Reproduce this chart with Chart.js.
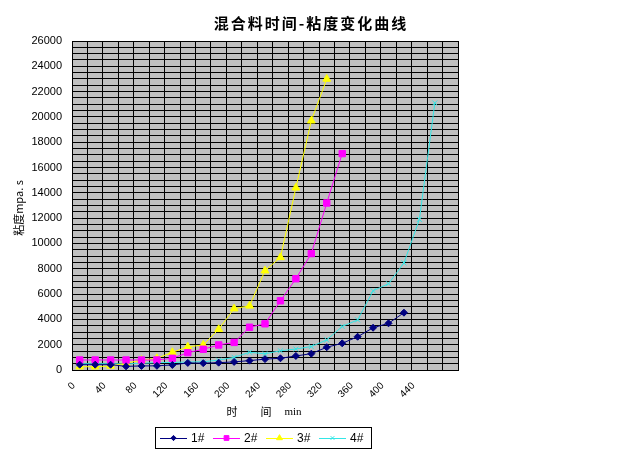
<!DOCTYPE html>
<html>
<head>
<meta charset="utf-8">
<script src="https://cdn.jsdelivr.net/npm/chart.js@4.4.0/dist/chart.umd.min.js"></script>
<style>
  html, body { margin: 0; padding: 0; background: #fff; }
  #wrap { width: 620px; height: 456px; }
</style>
</head>
<body>
<div id="wrap"><canvas id="chart" width="620" height="456"></canvas></div>
<script>
// categories (min); the last slot has no label
const timeLabels = ['0', '20', '40', '60', '80', '100', '120', '140', '160', '180', '200', '220',
  '240', '260', '280', '300', '320', '340', '360', '380', '400', '420', '440', '460', ''];

// viscosity, mpa.s
const visc1 = [420, 420, 420, 290, 320, 330, 400, 560, 540, 580, 640, 740,
  860, 925, 1110, 1290, 1800, 2110, 2630, 3340, 3690, 4530];
const visc2 = [790, 790, 790, 790, 790, 790, 925, 1370, 1640, 1980, 2180, 3380,
  3650, 5470, 7210, 9200, 13200, 17100];
const visc3 = [260, 260, 320, 530, 790, 925, 1400, 1830, 1980, 3220, 4850, 5070,
  7850, 8900, 14400, 19700, 23000];
const visc4 = [500, 500, 500, 480, 530, 580, 600, 630, 650, 780, 1000, 1400,
  1280, 1520, 1660, 1850, 2380, 3440, 3960, 6260, 6820, 8460, 11900, 21100];

const seriesNames = ['1#', '2#', '3#', '4#'];
const titleText = '混合料时间-粘度变化曲线';
const yTitle = '粘度mpa. s';

const yMax = 26000;
const yGridStep = 500;
const yLabelStep = 2000;

function makeSet(name, data, color, style, radius) {
  return {
    label: name,
    data: data,
    borderColor: color,
    backgroundColor: color,
    borderWidth: 1,
    pointStyle: style,
    pointRadius: radius,
    pointBorderWidth: 1,
    pointBorderColor: color,
    pointBackgroundColor: color,
    tension: 0,
    fill: false
  };
}

const datasets = [
  makeSet(seriesNames[0], visc1, '#000080', 'rectRot', 3.5),
  makeSet(seriesNames[1], visc2, '#ff00ff', 'rect', 4.5),
  makeSet(seriesNames[2], visc3, '#ffff00', 'triangle', 4.5),
  makeSet(seriesNames[3], visc4, '#33e6e6', 'crossRot', 3.5)
];

// grey plot background
const plotBg = {
  id: 'plotBg',
  beforeDraw(chart) {
    const a = chart.chartArea, ctx = chart.ctx;
    ctx.save();
    ctx.fillStyle = '#c0c0c0';
    ctx.fillRect(a.left, a.top, a.right - a.left, a.bottom - a.top);
    ctx.restore();
  }
};

// title, axis titles, boxed legend
const decor = {
  id: 'decor',
  afterDraw(chart) {
    const ctx = chart.ctx;
    ctx.save();
    ctx.fillStyle = '#000';
    ctx.textBaseline = 'middle';

    ctx.font = 'bold 15px "Noto Sans CJK SC"';
    ctx.textAlign = 'center';
    ctx.letterSpacing = '2px';
    ctx.fillText(titleText, 311, 23);
    ctx.letterSpacing = '0px';

    ctx.font = '11px "Noto Sans CJK SC"';
    ctx.fillText('时', 232, 412);
    ctx.fillText('间', 266, 412);
    ctx.font = '11px "Liberation Serif"';
    ctx.fillText('min', 293, 412);

    ctx.save();
    ctx.translate(19, 208);
    ctx.rotate(-Math.PI / 2);
    ctx.font = '11px "Noto Sans CJK SC"';
    ctx.fillText(yTitle, 0, 0);
    ctx.restore();

    // legend
    ctx.strokeStyle = '#000';
    ctx.lineWidth = 1;
    ctx.strokeRect(155.5, 427.5, 216, 21);
    const ly = 438;
    const starts = [160, 213, 266, 319];
    ctx.font = '12px "Liberation Sans"';
    ctx.textAlign = 'left';
    chart.data.datasets.forEach((ds, i) => {
      const x0 = starts[i];
      ctx.strokeStyle = ds.borderColor;
      ctx.beginPath();
      ctx.moveTo(x0, ly + 0.5);
      ctx.lineTo(x0 + 27, ly + 0.5);
      ctx.stroke();
      ctx.fillStyle = ds.backgroundColor;
      ctx.strokeStyle = ds.borderColor;
      Chart.helpers.drawPoint(ctx, {
        pointStyle: ds.pointStyle,
        radius: ds.pointRadius * 0.75,
        borderWidth: 1
      }, x0 + 13.5, ly);
      ctx.fillStyle = '#000';
      ctx.fillText(ds.label, x0 + 31, ly + 1);
    });
    ctx.restore();
  }
};

new Chart(document.getElementById('chart'), {
  type: 'line',
  data: { labels: timeLabels, datasets: datasets },
  plugins: [plotBg, decor],
  options: {
    responsive: false,
    animation: false,
    events: [],
    layout: { padding: { top: 41, right: 162, bottom: 0, left: 0 } },
    plugins: {
      legend: { display: false },
      title: { display: false },
      tooltip: { enabled: false }
    },
    scales: {
      x: {
        type: 'category',
        offset: true,
        afterFit(scale) { scale.height = 86; },
        grid: { offset: true, color: '#000', lineWidth: 1, drawTicks: false },
        border: { color: '#000', width: 1 },
        ticks: {
          autoSkip: false,
          minRotation: 45,
          maxRotation: 45,
          padding: 10,
          labelOffset: -6,
          color: '#000',
          font: { family: 'Liberation Sans', size: 10 },
          callback(val, idx) {
            return idx % 2 === 0 ? this.getLabelForValue(val) : '';
          }
        }
      },
      y: {
        min: 0,
        max: yMax,
        afterFit(scale) { scale.width = 72; },
        grid: { color: '#000', lineWidth: 1, drawTicks: false },
        border: { color: '#000', width: 1 },
        ticks: {
          stepSize: yGridStep,
          autoSkip: false,
          padding: 10,
          color: '#000',
          font: { family: 'Liberation Sans', size: 11 },
          callback(v) { return v % yLabelStep === 0 ? v : ''; }
        }
      }
    }
  }
});
</script>
</body>
</html>
